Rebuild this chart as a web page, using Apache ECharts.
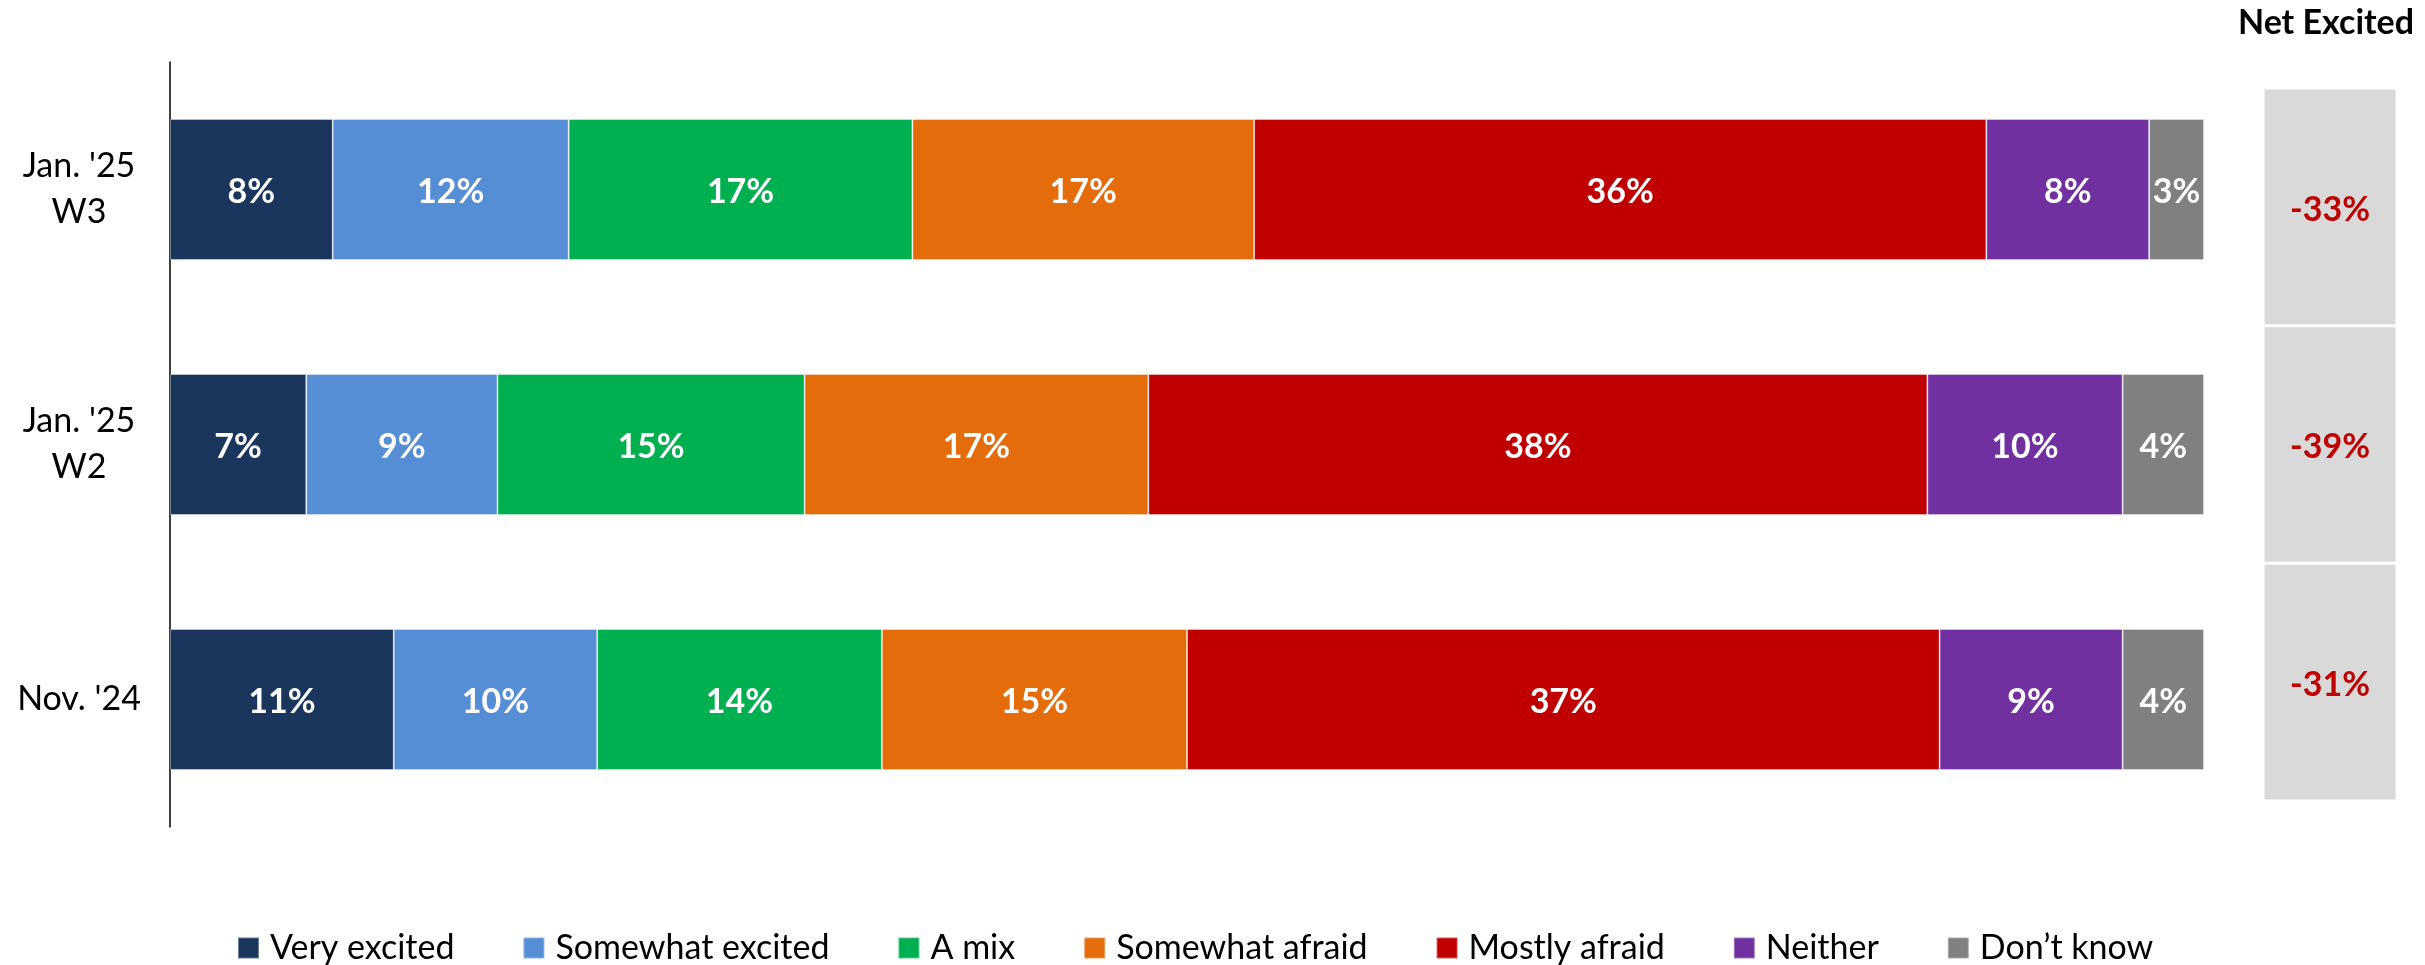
<!DOCTYPE html>
<html>
<head>
<meta charset="utf-8">
<script src="https://cdn.jsdelivr.net/npm/echarts@6/dist/echarts.min.js"></script>
<style>
html,body{margin:0;padding:0;background:#fff;}
#main{width:2425px;height:965px;}
</style>
</head>
<body>
<div id="main"></div>
<script>
// ---- data ----
const categories = ["Jan. '25\nW3", "Jan. '25\nW2", "Nov. '24"];
const seriesNames = ['Very excited', 'Somewhat excited', 'A mix', 'Somewhat afraid', 'Mostly afraid', 'Neither', 'Don\u2019t know'];
const veryExcited     = [8.0, 6.7, 11.0];
const somewhatExcited = [11.6, 9.4, 10.0];
const aMix            = [16.9, 15.1, 14.0];
const somewhatAfraid  = [16.8, 16.9, 15.0];
const mostlyAfraid    = [36.0, 38.3, 37.0];
const neither         = [8.0, 9.6, 9.0];
const dontKnow        = [2.7, 4.0, 4.0];
const netExcited      = [-33, -39, -31];
const netTitle = 'Net Excited';

const colors = ['#1B365D', '#558ED5', '#00B050', '#E46C0A', '#C00000', '#7030A0', '#808080'];
const values = [veryExcited, somewhatExcited, aMix, somewhatAfraid, mostlyAfraid, neither, dontKnow];

const FONT = 'Lato';

const chart = echarts.init(document.getElementById('main'), null, {renderer: 'canvas'});

const barSeries = seriesNames.map((name, i) => ({
  name: name,
  type: 'bar',
  stack: 'total',
  xAxisIndex: 0,
  yAxisIndex: 0,
  barWidth: 141,
  data: values[i],
  itemStyle: {color: colors[i], borderColor: 'rgba(255,255,255,0.35)', borderWidth: 1},
  label: {
    show: true,
    position: 'inside',
    offset: [0, 3],
    color: '#fff',
    fontFamily: FONT,
    fontWeight: 'bold',
    fontSize: 34,
    formatter: p => Math.round(p.value) + '%'
  },
  emphasis: {disabled: true}
}));

const netSeries = {
  name: 'net',
  type: 'bar',
  xAxisIndex: 1,
  yAxisIndex: 1,
  barCategoryGap: 0,
  data: netExcited.map(() => 1),
  itemStyle: {color: '#D9D9D9', borderColor: '#fff', borderWidth: 1.5},
  label: {
    show: true,
    position: 'inside',
    offset: [0, 3],
    color: '#C00000',
    fontFamily: FONT,
    fontWeight: 'bold',
    fontSize: 34,
    formatter: p => netExcited[p.dataIndex] + '%'
  },
  emphasis: {disabled: true}
};

chart.setOption({
  animation: false,
  backgroundColor: '#fff',
  grid: [
    {left: 170, width: 2034, top: 62, height: 765},
    {left: 2263, width: 134, top: 88, height: 713}
  ],
  xAxis: [
    {type: 'value', gridIndex: 0, min: 0, max: 100, show: false},
    {type: 'value', gridIndex: 1, min: 0, max: 1, show: false}
  ],
  yAxis: [
    {
      type: 'category', gridIndex: 0, data: categories, inverse: true,
      axisLine: {show: true, lineStyle: {color: '#000', width: 1.5}},
      axisTick: {show: false},
      axisLabel: {
        fontFamily: FONT, fontSize: 34, color: '#000', align: 'center', margin: 91, lineHeight: 46
      }
    },
    {type: 'category', gridIndex: 1, data: categories, inverse: true, show: false}
  ],
  legend: {
    data: seriesNames,
    left: 232,
    top: 926,
    icon: 'rect',
    itemWidth: 21,
    itemHeight: 21,
    itemGap: 68,
    textStyle: {fontFamily: FONT, fontSize: 34, color: '#000', padding: [0, 0, 0, 6]},
    selectedMode: false
  },
  graphic: [{
    type: 'text',
    x: 2326, y: 23,
    style: {text: netTitle, fontFamily: FONT, fontWeight: 'bold', fontSize: 34, fill: '#000', textAlign: 'center', textVerticalAlign: 'middle'}
  }],
  series: barSeries.concat([netSeries])
});
</script>
</body>
</html>
